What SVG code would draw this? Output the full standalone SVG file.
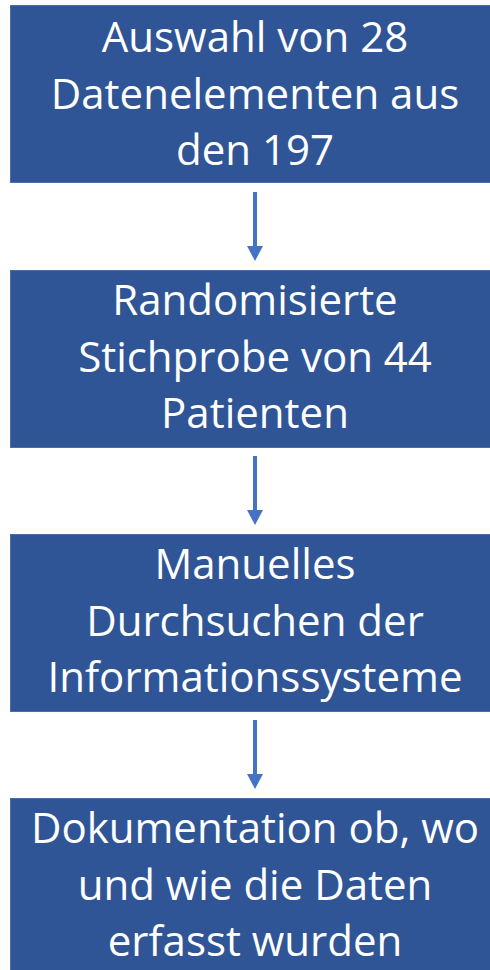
<svg xmlns="http://www.w3.org/2000/svg" width="490" height="970" viewBox="0 0 490 970">
<defs>
<style>
.box{fill:#2F5597;stroke:#4A6FA8;stroke-width:1}
.t{font-family:"Open Sans","Liberation Sans",sans-serif;font-size:42px;fill:#FFFFFF;text-anchor:middle}
.c{stroke:#4472C4;stroke-width:4;fill:none}
.h{fill:#4472C4}
</style>
</defs>
<rect width="490" height="970" fill="#FFFFFF"/>
<g id="node1">
<rect class="box" x="10.5" y="5.5" width="484" height="177"/>
<text class="t" x="255" y="52">Auswahl von 28</text>
<text class="t" x="255" y="109">Datenelementen aus</text>
<text class="t" x="255" y="165">den 197</text>
</g>
<g id="node2">
<rect class="box" x="10.5" y="270.5" width="484" height="177"/>
<text class="t" x="255" y="315">Randomisierte</text>
<text class="t" x="255" y="372">Stichprobe von 44</text>
<text class="t" x="255" y="428">Patienten</text>
</g>
<g id="node3">
<rect class="box" x="10.5" y="534.5" width="484" height="177"/>
<text class="t" x="255" y="579">Manuelles</text>
<text class="t" x="255" y="636">Durchsuchen der</text>
<text class="t" x="255" y="692">Informationssysteme</text>
</g>
<g id="node4">
<rect class="box" x="10.5" y="798.5" width="484" height="180"/>
<text class="t" x="255" y="843">Dokumentation ob, wo</text>
<text class="t" x="255" y="900">und wie die Daten</text>
<text class="t" x="255" y="956">erfasst wurden</text>
</g>
<g id="connectors">
<line class="c" x1="255" y1="192" x2="255" y2="247"/>
<polygon class="h" points="247,246 263,246 255,261"/>
<line class="c" x1="255" y1="456" x2="255" y2="511"/>
<polygon class="h" points="247,510 263,510 255,525"/>
<line class="c" x1="255" y1="720" x2="255" y2="775"/>
<polygon class="h" points="247,774 263,774 255,789"/>
</g>
</svg>
